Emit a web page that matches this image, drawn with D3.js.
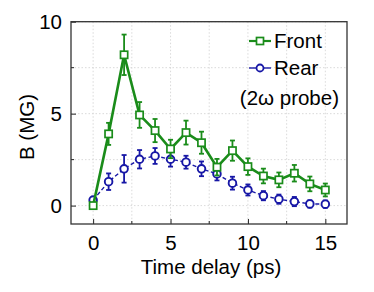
<!DOCTYPE html>
<html><head><meta charset="utf-8">
<script src="https://cdn.jsdelivr.net/npm/d3@7"></script>
<style>body{margin:0;background:#fff}svg{display:block}text{font-family:"Liberation Sans",Arial,sans-serif}</style>
</head><body><svg id="c" width="374" height="292"></svg>
<script>
const times = [0,1,2,3,4,5,6,7,8,9,10,11,12,13,14,15];
const frontB = [0.0,3.9,8.2,4.93,4.08,3.08,3.97,3.42,2.09,2.99,2.12,1.61,1.40,1.76,1.18,0.85];
const frontErr = [0.1,0.6,1.1,0.7,0.63,0.5,0.65,0.6,0.45,0.55,0.45,0.4,0.4,0.45,0.4,0.35];
const rearB = [0.3,1.3,2.0,2.52,2.7,2.52,2.36,2.0,1.72,1.22,0.85,0.54,0.35,0.22,0.09,0.08];
const rearErr = [0.1,0.45,0.75,0.5,0.43,0.4,0.35,0.4,0.35,0.35,0.3,0.25,0.25,0.25,0.2,0.2];
const xTicks = [0,5,10,15];
const yTicks = [0,5,10];
const seriesNames = ["Front","Rear"];
const noteText = "(2\u03c9 probe)";

const green = "#1a8c1a", blue = "#1717a6";
const svg = d3.select("#c");
const L=71, R=347, T=21.7, B=224;
const FS = 20.5;
const x = d3.scaleLinear().domain([-1.43,16.4]).range([L,R]);
const y = d3.scaleLinear().domain([-1,10]).range([B,T]);

// grid
const gx = d3.range(0,16,2.5), gy = d3.range(0,10.01,2.5);
svg.append("g").selectAll("line").data(gx).join("line")
  .attr("x1",d=>x(d)).attr("x2",d=>x(d)).attr("y1",T).attr("y2",B)
  .attr("stroke","#d0d0d0").attr("stroke-width",0.8).attr("stroke-dasharray","1.5,2");
svg.append("g").selectAll("line").data(gy).join("line")
  .attr("y1",d=>y(d)).attr("y2",d=>y(d)).attr("x1",L).attr("x2",R)
  .attr("stroke","#d0d0d0").attr("stroke-width",0.8).attr("stroke-dasharray","1.5,2");

// axes
const xa = svg.append("g").attr("transform",`translate(0,${B})`)
  .call(d3.axisBottom(x).tickValues(xTicks).tickSize(-5).tickPadding(11).tickFormat(d3.format("d")));
const ya = svg.append("g").attr("transform",`translate(${L},0)`)
  .call(d3.axisLeft(y).tickValues(yTicks).tickSize(-5).tickPadding(9).tickFormat(d3.format("d")));
[xa,ya].forEach(a=>{a.select(".domain").remove();a.selectAll("text").attr("font-size",FS).attr("fill","#000").style("font-family","Liberation Sans, Arial");a.selectAll("line").attr("stroke","#222");});
// minor ticks
svg.append("g").selectAll("line").data([2.5,7.5,12.5]).join("line")
  .attr("x1",d=>x(d)).attr("x2",d=>x(d)).attr("y1",B).attr("y2",B-3).attr("stroke","#222");
svg.append("g").selectAll("line").data([2.5,7.5]).join("line")
  .attr("y1",d=>y(d)).attr("y2",d=>y(d)).attr("x1",L).attr("x2",L+3).attr("stroke","#222");
// frame
svg.append("rect").attr("x",L).attr("y",T).attr("width",R-L).attr("height",B-T)
  .attr("fill","none").attr("stroke","#333").attr("stroke-width",1.3);

// labels
svg.append("text").attr("x",(L+R)/2+2).attr("y",274).attr("text-anchor","middle")
  .attr("font-size",FS).text("Time delay (ps)");
svg.append("text").attr("transform","translate(34,127) rotate(-90)").attr("text-anchor","middle")
  .attr("font-size",FS).text("B (MG)");

function drawSeries(vals, errs, color, lw, dash, shape){
  const g = svg.append("g");
  const line = d3.line().x((d,i)=>x(times[i])).y(d=>y(d));
  g.append("path").datum(vals).attr("d",line).attr("fill","none").attr("stroke",color)
    .attr("stroke-width",lw).attr("stroke-dasharray",dash);
  const eb = g.append("g").selectAll("g").data(vals).join("g");
  eb.append("line").attr("x1",(d,i)=>x(times[i])).attr("x2",(d,i)=>x(times[i]))
    .attr("y1",(d,i)=>y(d+errs[i])).attr("y2",(d,i)=>y(d-errs[i])).attr("stroke",color).attr("stroke-width",1.8);
  [1,-1].forEach(s=>eb.append("line").attr("x1",(d,i)=>x(times[i])-2.5).attr("x2",(d,i)=>x(times[i])+2.5)
    .attr("y1",(d,i)=>y(d+s*errs[i])).attr("y2",(d,i)=>y(d+s*errs[i])).attr("stroke",color).attr("stroke-width",1.8));
  if(shape==="sq"){
    g.append("g").selectAll("rect").data(vals).join("rect")
      .attr("x",(d,i)=>x(times[i])-3.6).attr("y",d=>y(d)-3.6).attr("width",7.2).attr("height",7.2)
      .attr("fill","#fff").attr("stroke",color).attr("stroke-width",1.7);
  } else {
    g.append("g").selectAll("circle").data(vals).join("circle")
      .attr("cx",(d,i)=>x(times[i])).attr("cy",d=>y(d)).attr("r",3.8)
      .attr("fill","#fff").attr("stroke",color).attr("stroke-width",1.9);
  }
}
drawSeries(rearB, rearErr, blue, 1.4, "4,2.5", "ci");
drawSeries(frontB, frontErr, green, 2.6, null, "sq");

// legend
const lg = svg.append("g");
const legY = [41,68];
[[green,2.2,null,"sq"],[blue,1.4,null,"ci"]].forEach((s,i)=>{
  lg.append("line").attr("x1",249).attr("x2",271).attr("y1",legY[i]).attr("y2",legY[i]).attr("stroke",s[0]).attr("stroke-width",s[1]);
  if(s[3]==="sq") lg.append("rect").attr("x",256.5).attr("y",legY[i]-3.5).attr("width",7).attr("height",7).attr("fill","#fff").attr("stroke",s[0]).attr("stroke-width",1.7);
  else lg.append("circle").attr("cx",260).attr("cy",legY[i]).attr("r",3.5).attr("fill","#fff").attr("stroke",s[0]).attr("stroke-width",1.8);
  lg.append("text").attr("x",274).attr("y",legY[i]+7).attr("font-size",FS).text(seriesNames[i]);
});
lg.append("text").attr("x",339).attr("y",105).attr("text-anchor","end").attr("font-size",FS).text(noteText);
</script></body></html>
